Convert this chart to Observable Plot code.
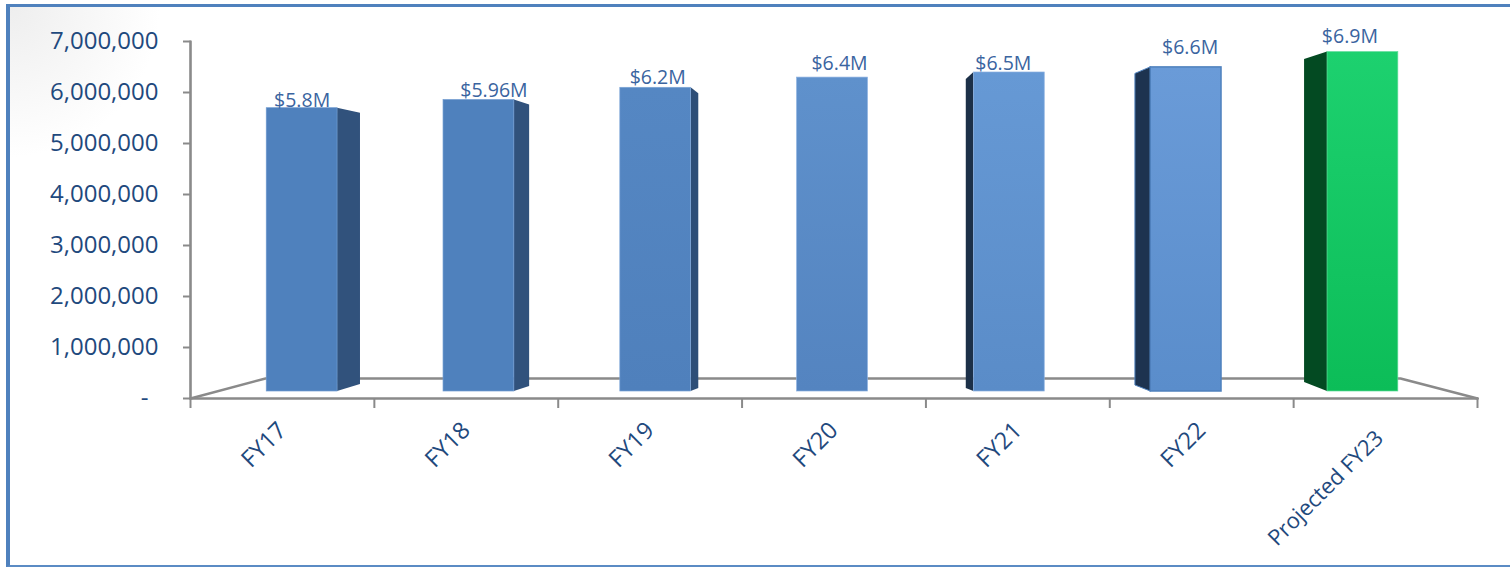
<!DOCTYPE html>
<html>
<head>
<meta charset="utf-8">
<script src="https://cdn.jsdelivr.net/npm/d3@7"></script>
<script src="https://cdn.jsdelivr.net/npm/@observablehq/plot@0.6"></script>
<style>
html,body{margin:0;padding:0;background:#fff;width:1510px;height:567px;overflow:hidden}
#panel{position:absolute;left:6px;top:4px;width:1520px;height:563px;box-sizing:border-box;
 border-left:4px solid #4f81bd;border-top:3.5px solid #4f81bd;border-bottom:2px solid #5b8bc4;
 background:radial-gradient(circle at 0 0,#eeeeee 0,#ffffff 150px)}
#chart{position:absolute;left:0;top:0}
#chart svg{display:block;background:transparent;overflow:visible}
</style>
</head>
<body>
<div id="panel"></div>
<div id="chart"></div>
<script>
const categories = ["FY17","FY18","FY19","FY20","FY21","FY22","Projected FY23"];
const values = [5800000,5960000,6200000,6400000,6500000,6600000,6900000];
const valueLabels = ["$5.8M","$5.96M","$6.2M","$6.4M","$6.5M","$6.6M","$6.9M"];
const labelShiftX = [0,15,2,7,-6,4,-13];
const labelShiftY = [-1,-3,-4,-7.5,-2.5,-13,-9.5];
const nameShiftX = [-6,-6,-6,-6,-6,-6,-12];
const nameShiftY = [4,4,4,4,4,4,12];
const nameSize = [23.5,23.5,23.5,23.5,23.5,23.5,22];
const sideTopDrop = [5,5,6,0,7,6.5,7.5];
const sideBaseRise = [7,5,3,0,3,6,9];
const faceTop = ["#4f81bd","#4f81bd","#5587c3","#5f91cc","#6699d5","#6a9bd8","#1dd16f"];
const faceBottom = ["#4f81bd","#4f81bd","#4f80bc","#5484c0","#5a8cc8","#5a8dcb","#0cbd58"];
const sideColor = ["#31527c","#31527c","#2d4e77","#2d4e77","#1c3048","#1d3350","#034a22"];
const edgeColor = ["#6f9ad0","#6f9ad0","#7aa3d6","#8ab0e0","#8ab0e0","#4f81bd","#5fdc9a"];

// plot area conversions (px -> data units), all marks go through the scales
const W = 1510, H = 567, ML = 190, MR = 33, MT = 41, MB = 169;
const xUnit = (W - ML - MR) / 7, yUnit = (H - MT - MB) / 7000000;
const xpx = p => p / xUnit, ypx = p => p / yUnit;

const rows = categories.map((name, i) => {
  const center = 3.492 + (i - 3) * 0.9616;
  const half = xpx(35.4);
  const top = values[i] - ypx(5.5);
  const base = ypx(7);
  const side = (3 - i) * xpx(7.65);
  const frontX = side > 0 ? center + half : center - half;
  return {i, name, value: values[i], center, x1: center - half, x2: center + half, top, base, side, frontX, label: valueLabels[i], size: nameSize[i]};
});

const sides = rows.filter(d => d.side !== 0).flatMap(d => [
  {i: d.i, x: d.frontX, y1: d.base, y2: d.top},
  {i: d.i, x: d.frontX + d.side, y1: d.base + ypx(sideBaseRise[d.i]), y2: d.top - ypx(sideTopDrop[d.i])}
]);

const floorLine = [
  {x: 0, y: 0},
  {x: xpx(75), y: ypx(20)},
  {x: xpx(1210), y: ypx(20)},
  {x: 7, y: 0}
];
const xAxisLine = [{x: 0, y: 0}, {x: 7, y: 0}];
const yAxisLine = [{x: 0, y: 0}, {x: 0, y: 7000000}];

const gradients = () => {
  const defs = d3.create("svg:defs");
  rows.forEach(d => {
    const g = defs.append("linearGradient").attr("id", "face" + d.i).attr("x1", 0).attr("y1", 0).attr("x2", 0).attr("y2", 1);
    g.append("stop").attr("offset", "0%").attr("stop-color", faceTop[d.i]);
    g.append("stop").attr("offset", "100%").attr("stop-color", faceBottom[d.i]);
  });
  return defs.node();
};

const fontFamily = "'Open Sans', sans-serif";
const axisGray = "#8a8a8a";

const chart = Plot.plot({
  width: W, height: H,
  marginLeft: ML, marginRight: MR, marginTop: MT, marginBottom: MB,
  style: {background: "transparent", fontFamily},
  x: {domain: [0, 7], axis: null},
  y: {domain: [0, 7000000], axis: null},
  color: {type: "identity"},
  marks: [
    gradients,
    Plot.line(yAxisLine, {x: "x", y: "y", stroke: axisGray, strokeWidth: 2.6}),
    Plot.line(xAxisLine, {x: "x", y: "y", stroke: axisGray, strokeWidth: 2.6}),
    Plot.line(floorLine, {x: "x", y: "y", stroke: axisGray, strokeWidth: 2.4, curve: "linear"}),
    Plot.axisY({ticks: d3.range(1000000, 7000001, 1000000), tickFormat: d3.format(","), tickSize: 7, tickPadding: 25, stroke: axisGray, strokeWidth: 2, fill: "#1f497d", fontSize: 24}),
    Plot.axisY({ticks: [0], tickFormat: () => "-", tickSize: 7, tickPadding: 35, stroke: axisGray, strokeWidth: 2, fill: "#1f497d", fontSize: 24}),
    Plot.axisX({ticks: d3.range(0, 8), tickFormat: () => "", tickSize: 10, stroke: axisGray, strokeWidth: 2}),
    Plot.areaY(sides, {x: "x", y1: "y1", y2: "y2", z: "i", fill: d => sideColor[d.i], stroke: d => d.i === 5 ? edgeColor[5] : "none", strokeWidth: 1}),
    Plot.rect(rows, {x1: "x1", x2: "x2", y1: "base", y2: "top", fill: d => `url(#face${d.i})`, stroke: d => edgeColor[d.i], strokeWidth: d => d.i === 5 ? 1.5 : 0.7}),
    Plot.text(rows, {x: d => d.center + xpx(labelShiftX[d.i]), y: d => d.top - ypx(labelShiftY[d.i]), text: "label", lineAnchor: "bottom", fill: "#3a64a0", fontSize: 19.5}),
    Plot.text(rows.filter(d => d.i < 6), {x: d => d.i + 0.5 + xpx(nameShiftX[d.i]), y: d => -ypx(nameShiftY[d.i]), dy: 24, dx: 6, text: "name", rotate: -45, textAnchor: "end", lineAnchor: "middle", fill: "#1f497d", fontSize: nameSize[0]}),
    Plot.text(rows.filter(d => d.i === 6), {x: d => d.i + 0.5 + xpx(nameShiftX[d.i]), y: d => -ypx(nameShiftY[d.i]), dy: 24, dx: 6, text: "name", rotate: -45, textAnchor: "end", lineAnchor: "middle", fill: "#1f497d", fontSize: nameSize[6]})
  ]
});
document.getElementById("chart").append(chart);
</script>
</body>
</html>
